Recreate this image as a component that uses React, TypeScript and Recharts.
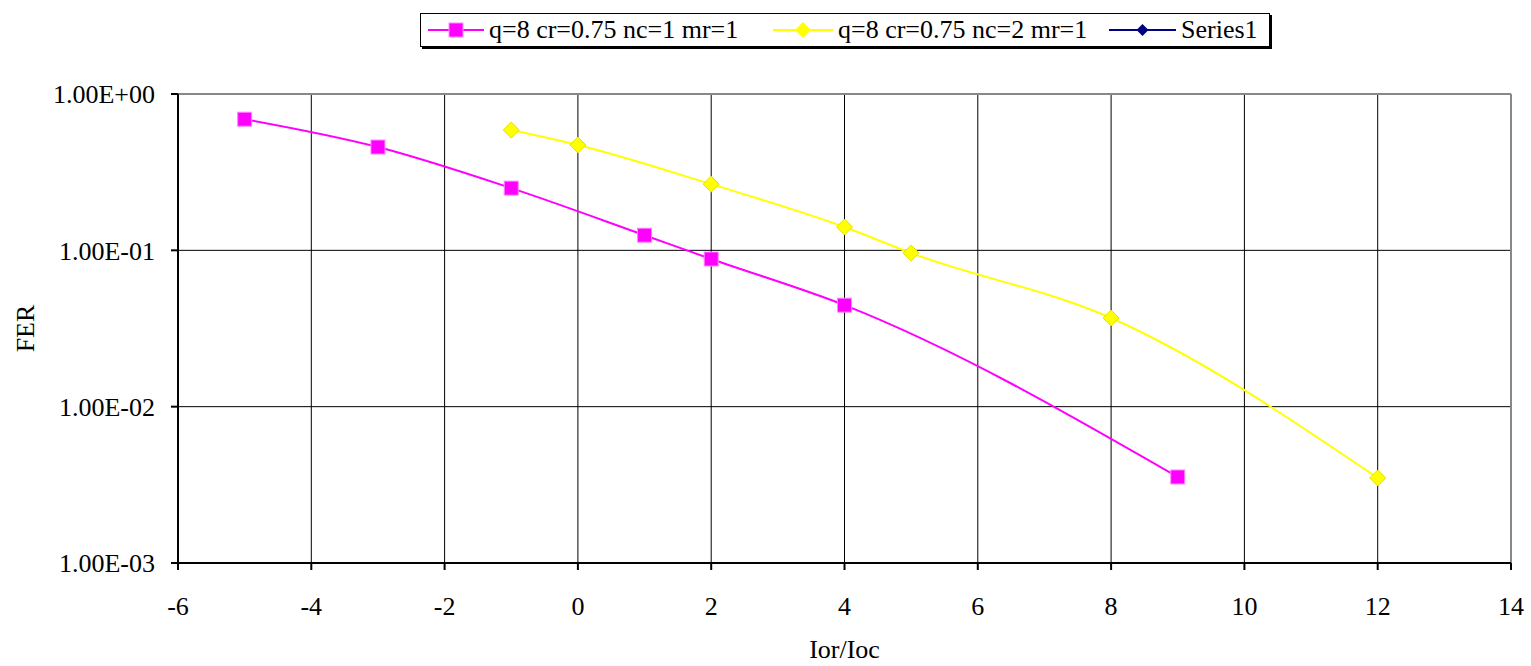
import React from 'react';
import { LineChart, Line, XAxis, YAxis, CartesianGrid, ReferenceLine } from 'recharts';

const seriesNames = ['q=8 cr=0.75 nc=1 mr=1', 'q=8 cr=0.75 nc=2 mr=1', 'Series1'];
const seriesColors = ['#FF00FF', '#FFFF00', '#000080'];

// nc=1 curve
const nc1Ior = [-5, -3, -1, 1, 2, 4, 9];
const nc1Fer = [0.69, 0.458, 0.25, 0.125, 0.088, 0.0446, 0.00355];

// nc=2 curve
const nc2Ior = [-1, 0, 2, 4, 5, 8, 12];
const nc2Fer = [0.588, 0.472, 0.265, 0.141, 0.096, 0.0369, 0.0035];

const xTicks = [-6, -4, -2, 0, 2, 4, 6, 8, 10, 12, 14];
const yTicks = [1, 0.1, 0.01, 0.001];

const nc1Data = nc1Ior.map((x, i) => ({ x, fer: nc1Fer[i] }));
const nc2Data = nc2Ior.map((x, i) => ({ x, fer: nc2Fer[i] }));

const FONT = "'Liberation Serif', Tinos, Times, 'DejaVu Serif', serif";
const FS = 26;

function sciFormat(v: number) {
  const e = Math.round(Math.log10(v));
  const m = v / Math.pow(10, e);
  const sign = e < 0 ? '-' : '+';
  return `${m.toFixed(2)}E${sign}${String(Math.abs(e)).padStart(2, '0')}`;
}

const SquareDot = (props: any) => {
  const { cx, cy } = props;
  if (cx == null || cy == null) return null;
  return <rect x={cx - 7} y={cy - 7} width={14} height={14} fill="#FF00FF" stroke="#FF88FF" strokeWidth={1} />;
};

const DiamondDot = (props: any) => {
  const { cx, cy } = props;
  if (cx == null || cy == null) return null;
  return (
    <polygon
      points={`${cx},${cy - 8} ${cx + 8},${cy} ${cx},${cy + 8} ${cx - 8},${cy}`}
      fill="#FFFF00"
      stroke="#E0E000"
      strokeWidth={1}
    />
  );
};

// legend item placement (left edge of icon, icon width)
const legendLayout = [
  { left: 7, w: 56 },
  { left: 352, w: 60 },
  { left: 688, w: 67 },
];

function LegendIcon({ kind, color, w }: { kind: string; color: string; w: number }) {
  const c = w / 2;
  return (
    <svg width={w} height={20} style={{ display: 'block' }}>
      <line x1={0} y1={10} x2={w} y2={10} stroke={color} strokeWidth={2} />
      {kind === 'square' && <rect x={c - 7} y={3} width={14} height={14} fill={color} stroke="#FF88FF" />}
      {kind === 'diamond' && <polygon points={`${c},2 ${c + 8},10 ${c},18 ${c - 8},10`} fill={color} />}
      {kind === 'small' && <polygon points={`${c},4 ${c + 6},10 ${c},16 ${c - 6},10`} fill={color} />}
    </svg>
  );
}

export default function App() {
  const kinds = ['square', 'diamond', 'small'];
  return (
    <div style={{ position: 'relative', width: 1531, height: 666, background: '#fff', fontFamily: FONT }}>
      <style>{'body{margin:0} svg text{font-family:' + FONT + '}'}</style>
      <div
        style={{
          position: 'absolute',
          left: 420,
          top: 13,
          width: 848,
          height: 32,
          border: '1px solid #000',
          boxShadow: '2px 2px 0 #000',
          fontSize: FS,
          color: '#000',
          zIndex: 2,
          background: '#fff',
          fontFamily: FONT,
        }}
      >
        {seriesNames.map((n, i) => (
          <div
            key={n}
            style={{
              position: 'absolute',
              left: legendLayout[i].left,
              top: 0,
              height: 32,
              display: 'flex',
              alignItems: 'center',
              gap: 5,
              whiteSpace: 'nowrap',
            }}
          >
            <LegendIcon kind={kinds[i]} color={seriesColors[i]} w={legendLayout[i].w} />
            <span style={{ lineHeight: '32px' }}>{n}</span>
          </div>
        ))}
      </div>
      <LineChart width={1531} height={666} margin={{ top: 94, right: 20, bottom: 0, left: 0 }}>
        <CartesianGrid stroke="#000" strokeWidth={1} horizontalValues={yTicks} verticalValues={xTicks} />
        <ReferenceLine y={1} stroke="#888" strokeWidth={2} />
        <ReferenceLine x={14} stroke="#888" strokeWidth={2} />
        <XAxis
          type="number"
          dataKey="x"
          domain={[-6, 14]}
          ticks={xTicks}
          allowDataOverflow
          height={103}
          stroke="#000"
          strokeWidth={2}
          tickSize={7}
          tickMargin={27}
          tick={{ fill: '#000', fontSize: FS }}
          label={{
            content: (p: any) => {
              const vb = p.viewBox;
              return (
                <text x={vb.x + vb.width / 2} y={658} textAnchor="middle" fontSize={FS} fill="#000">
                  Ior/Ioc
                </text>
              );
            },
          }}
        />
        <YAxis
          type="number"
          scale="log"
          domain={[0.001, 1]}
          ticks={yTicks}
          allowDataOverflow
          width={178}
          stroke="#000"
          strokeWidth={2}
          tickSize={7}
          tickMargin={16}
          tickFormatter={sciFormat}
          tick={{ fill: '#000', fontSize: FS }}
          label={{
            content: (p: any) => {
              const vb = p.viewBox;
              const cy = vb.y + vb.height / 2;
              return (
                <text x={25} y={cy} textAnchor="middle" fontSize={FS} fill="#000" transform={`rotate(-90 25 ${cy})`} dominantBaseline="central">
                  FER
                </text>
              );
            },
          }}
        />
        <Line
          data={nc1Data}
          dataKey="fer"
          name={seriesNames[0]}
          type="monotone"
          stroke="#FF00FF"
          strokeWidth={2}
          dot={<SquareDot />}
          isAnimationActive={false}
        />
        <Line
          data={nc2Data}
          dataKey="fer"
          name={seriesNames[1]}
          type="monotone"
          stroke="#FFFF00"
          strokeWidth={2}
          dot={<DiamondDot />}
          isAnimationActive={false}
        />
      </LineChart>
    </div>
  );
}
